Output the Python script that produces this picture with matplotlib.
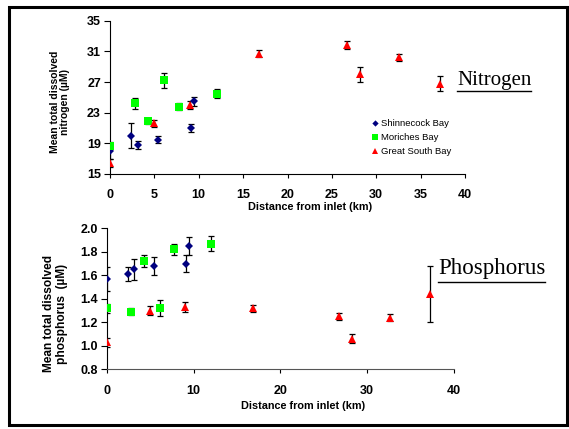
import matplotlib
matplotlib.use("Agg")
import matplotlib.pyplot as plt
from matplotlib.lines import Line2D
from matplotlib.patches import Rectangle

# ---- data ----
series_names = ["Shinnecock Bay", "Moriches Bay", "Great South Bay"]
shin_x = [0, 2.4, 3.2, 5.4, 9.1, 9.5]
mor_x = [0, 2.8, 4.3, 6.1, 7.8, 12.0]
gsb_x = [0, 5.0, 9.0, 16.8, 26.7, 28.2, 32.6, 37.2]

shin_n = [18.0, 20.0, 18.8, 19.5, 21.0, 24.5]
shin_n_err = [1.0, 1.6, 0.5, 0.5, 0.5, 0.6]
mor_n = [18.7, 24.2, 21.9, 27.2, 23.8, 25.5]
mor_n_err = [0.5, 0.7, 0.4, 1.0, 0.5, 0.6]
gsb_n = [16.4, 21.6, 24.0, 30.7, 31.8, 28.0, 30.2, 26.8]
gsb_n_err = [0.5, 0.5, 0.5, 0.5, 0.5, 1.0, 0.5, 1.0]

shin_p = [1.57, 1.61, 1.65, 1.68, 1.70, 1.85]
shin_p_err = [0.10, 0.06, 0.09, 0.08, 0.07, 0.08]
mor_p = [1.32, 1.29, 1.72, 1.32, 1.82, 1.87]
mor_p_err = [0.04, 0.03, 0.05, 0.07, 0.05, 0.065]
gsb_p = [1.03, 1.30, 1.33, 1.32, 1.25, 1.06, 1.24, 1.44]
gsb_p_err = [0.04, 0.04, 0.04, 0.03, 0.03, 0.04, 0.03, 0.24]

x_ticks = [0, 5, 10, 15, 20, 25, 30, 35, 40]
x_ticks_p = [0, 10, 20, 30, 40]
n_ticks = [15, 19, 23, 27, 31, 35]
p_ticks = [0.8, 1.0, 1.2, 1.4, 1.6, 1.8, 2.0]

colors = ["#000080", "#00FF00", "#FF0000"]
markers = ["D", "s", "^"]
msizes = [4, 6, 6]

W, H = 569, 429
fig = plt.figure(figsize=(W / 100, H / 100), dpi=100)
plt.rcParams['font.family'] = ['Liberation Sans', 'DejaVu Sans']

def px_axes(l, r, t, b):
    return fig.add_axes([l / W, 1 - b / H, (r - l) / W, (b - t) / H])

ax1 = px_axes(110, 465, 20.7, 174)
ax2 = px_axes(106.7, 454, 228.3, 369.3)

def style(ax, xt, yt, xlim, ylim, yfmt, xpad, spine_col):
    ax.set_xlim(*xlim)
    ax.set_ylim(*ylim)
    ax.set_xticks(xt)
    ax.set_yticks(yt)
    ax.set_yticklabels([yfmt.format(v) for v in yt])
    for s in ["top", "right"]:
        ax.spines[s].set_visible(False)
    ax.spines["left"].set_color("black")
    ax.spines["bottom"].set_color(spine_col)
    ax.tick_params(axis="y", direction="out", length=4, width=0.8, pad=2.5, labelsize=9)
    ax.tick_params(axis="x", direction="out", length=3, width=0.8, pad=xpad, labelsize=9)
    for lab in ax.get_xticklabels() + ax.get_yticklabels():
        lab.set_fontweight("bold")
    ax.patch.set_alpha(0)

def plot_series(ax, xs, ys, es):
    for x, y, e, c, m, ms in zip(xs, ys, es, colors, markers, msizes):
        ax.errorbar(x, y, yerr=e, fmt="none", ecolor="black", elinewidth=0.9,
                    capsize=2.2, capthick=0.9, zorder=2)
        ax.plot(x, y, linestyle="none", marker=m, color=c, markersize=ms,
                markeredgewidth=0, zorder=3)

plot_series(ax1, [shin_x, mor_x, gsb_x], [shin_n, mor_n, gsb_n],
            [shin_n_err, mor_n_err, gsb_n_err])
plot_series(ax2, [shin_x, mor_x, gsb_x], [shin_p, mor_p, gsb_p],
            [shin_p_err, mor_p_err, gsb_p_err])

style(ax1, x_ticks, n_ticks, (0, 40), (15, 35), "{:.0f}", 8.0, "black")
style(ax2, x_ticks_p, p_ticks, (0, 40), (0.8, 2.0), "{:.1f}", 8.0, "#555555")

# legend
handles = [Line2D([], [], linestyle="none", marker=m, color=c, markersize=ms * 0.8,
                  markeredgewidth=0) for c, m, ms in zip(colors, markers, msizes)]
leg = ax1.legend(handles, series_names, loc="upper left",
                 bbox_to_anchor=((373 - 110) / 355, 1 - (119 - 20.7) / 153.3),
                 frameon=False, handlelength=0.5, handletextpad=0.35,
                 labelspacing=0.55, borderaxespad=0, borderpad=0,
                 prop={"size": 6.8})

# axis labels (figure text, pixel positions)
def ftext(x, y, s, **kw):
    return fig.text(x / W, 1 - y / H, s, **kw)

ftext(310, 207, "Distance from inlet (km)", ha="center", va="center",
      fontsize=7.8, fontweight="bold")
ftext(303, 406, "Distance from inlet (km)", ha="center", va="center",
      fontsize=7.8, fontweight="bold")
ftext(60, 102, "Mean total dissolved\nnitrogen (\u00b5M)", ha="center", va="center",
      rotation=90, fontsize=7.5, fontweight="bold", linespacing=1.0)
ftext(55.5, 314, "Mean total dissolved\nphosphorus  (\u00b5M)", ha="center", va="center",
      rotation=90, fontsize=8.6, fontweight="bold", linespacing=1.15)

t1 = ftext(457, 85, "Nitrogen", ha="left", va="baseline", fontsize=15,
           family=["Liberation Serif", "DejaVu Serif"])
t2 = ftext(438, 274, "Phosphorus", ha="left", va="baseline", fontsize=16.5,
           family=["Liberation Serif", "DejaVu Serif"])

# border
fig.patches.append(Rectangle((8.5 / W, 1 - 425 / H), (567 - 8.5) / W, (425 - 6.5) / H,
                             transform=fig.transFigure, fill=False,
                             edgecolor="black", linewidth=2.2))

# underlines
fig.canvas.draw()
r = fig.canvas.get_renderer()
for t, yb in [(t1, 91), (t2, 282)]:
    bb = t.get_window_extent(r)
    fig.add_artist(Line2D([bb.x0 / W, bb.x1 / W], [1 - yb / H, 1 - yb / H],
                          transform=fig.transFigure, color="black", linewidth=1.0))

fig.savefig("out.png", dpi=100)
